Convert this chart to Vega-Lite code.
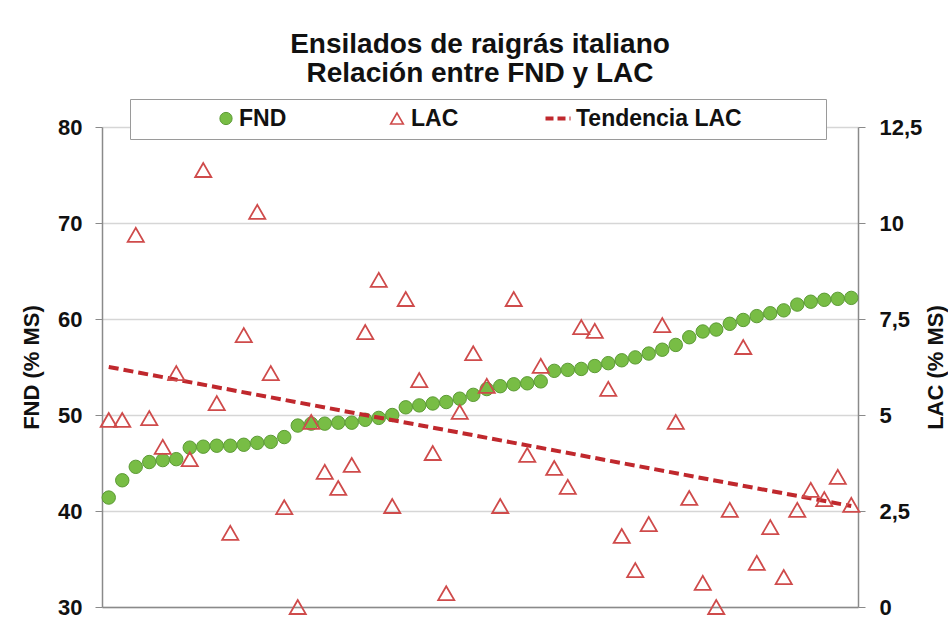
{
  "$schema": "https://vega.github.io/schema/vega-lite/v6.json",
  "width": 756,
  "height": 480,
  "autosize": {"type": "none"},
  "padding": {"left": 102, "top": 127, "right": 90, "bottom": 26},
  "background": "white",
  "config": {
    "view": {"stroke": null},
    "font": "Liberation Sans",
    "axis": {"labelFont": "Liberation Sans", "titleFont": "Liberation Sans"},
    "legend": {
      "orient": "none", "legendY": -28, "direction": "horizontal", "padding": 8,
      "labelFont": "Liberation Sans", "labelFontSize": 23, "labelFontWeight": "bold", "labelColor": "#111111", "labelLimit": 400,
      "symbolOpacity": 1
    }
  },
  "title": {
    "text": ["Ensilados de raigrás italiano", "Relación entre FND y LAC"],
    "font": "Liberation Sans",
    "fontSize": 28,
    "fontWeight": "bold",
    "color": "#111111",
    "lineHeight": 29,
    "anchor": "middle",
    "offset": 8
  },
  "datasets": {
    "points": [
      {"i": 1, "FND": 41.4, "LAC": 4.87},
      {"i": 2, "FND": 43.2, "LAC": 4.87},
      {"i": 3, "FND": 44.6, "LAC": 9.69},
      {"i": 4, "FND": 45.1, "LAC": 4.92},
      {"i": 5, "FND": 45.3, "LAC": 4.17},
      {"i": 6, "FND": 45.4, "LAC": 6.09},
      {"i": 7, "FND": 46.6, "LAC": 3.85},
      {"i": 8, "FND": 46.7, "LAC": 11.38},
      {"i": 9, "FND": 46.8, "LAC": 5.31},
      {"i": 10, "FND": 46.8, "LAC": 1.93},
      {"i": 11, "FND": 46.9, "LAC": 7.08},
      {"i": 12, "FND": 47.1, "LAC": 10.29},
      {"i": 13, "FND": 47.2, "LAC": 6.09},
      {"i": 14, "FND": 47.7, "LAC": 2.6},
      {"i": 15, "FND": 48.9, "LAC": 0.0},
      {"i": 16, "FND": 49.1, "LAC": 4.82},
      {"i": 17, "FND": 49.1, "LAC": 3.52},
      {"i": 18, "FND": 49.2, "LAC": 3.1},
      {"i": 19, "FND": 49.2, "LAC": 3.7},
      {"i": 20, "FND": 49.5, "LAC": 7.16},
      {"i": 21, "FND": 49.7, "LAC": 8.52},
      {"i": 22, "FND": 50.0, "LAC": 2.63},
      {"i": 23, "FND": 50.8, "LAC": 8.02},
      {"i": 24, "FND": 51.0, "LAC": 5.91},
      {"i": 25, "FND": 51.2, "LAC": 4.01},
      {"i": 26, "FND": 51.35, "LAC": 0.36},
      {"i": 27, "FND": 51.7, "LAC": 5.08},
      {"i": 28, "FND": 52.1, "LAC": 6.61},
      {"i": 29, "FND": 52.7, "LAC": 5.76},
      {"i": 30, "FND": 53.0, "LAC": 2.63},
      {"i": 31, "FND": 53.2, "LAC": 8.02},
      {"i": 32, "FND": 53.3, "LAC": 3.96},
      {"i": 33, "FND": 53.5, "LAC": 6.28},
      {"i": 34, "FND": 54.6, "LAC": 3.62},
      {"i": 35, "FND": 54.7, "LAC": 3.13},
      {"i": 36, "FND": 54.8, "LAC": 7.29},
      {"i": 37, "FND": 55.1, "LAC": 7.19},
      {"i": 38, "FND": 55.4, "LAC": 5.68},
      {"i": 39, "FND": 55.7, "LAC": 1.85},
      {"i": 40, "FND": 56.0, "LAC": 0.96},
      {"i": 41, "FND": 56.4, "LAC": 2.16},
      {"i": 42, "FND": 56.8, "LAC": 7.34},
      {"i": 43, "FND": 57.3, "LAC": 4.82},
      {"i": 44, "FND": 58.1, "LAC": 2.84},
      {"i": 45, "FND": 58.7, "LAC": 0.63},
      {"i": 46, "FND": 58.9, "LAC": 0.0},
      {"i": 47, "FND": 59.5, "LAC": 2.53},
      {"i": 48, "FND": 59.9, "LAC": 6.77},
      {"i": 49, "FND": 60.3, "LAC": 1.15},
      {"i": 50, "FND": 60.6, "LAC": 2.08},
      {"i": 51, "FND": 60.9, "LAC": 0.78},
      {"i": 52, "FND": 61.5, "LAC": 2.53},
      {"i": 53, "FND": 61.8, "LAC": 3.05},
      {"i": 54, "FND": 62.0, "LAC": 2.81},
      {"i": 55, "FND": 62.1, "LAC": 3.39},
      {"i": 56, "FND": 62.2, "LAC": 2.66}
    ],
    "trend": [
      {"i": 1, "trend": 6.25},
      {"i": 56, "trend": 2.63}
    ]
  },
  "layer": [
    {
      "data": {"name": "points"},
      "mark": {"type": "circle", "size": 180, "opacity": 1, "stroke": "#5b9a34", "strokeWidth": 1},
      "encoding": {
        "x": {"field": "i", "type": "quantitative", "scale": {"domain": [0.5, 56.5], "nice": false, "zero": false},
          "axis": {"labels": false, "ticks": false, "grid": false, "title": null, "domainColor": "#8a8a8a", "domainWidth": 1.5}},
        "y": {"field": "FND", "type": "quantitative", "scale": {"domain": [30, 80], "nice": false, "zero": false},
          "axis": {"orient": "left", "values": [30, 40, 50, 60, 70, 80], "title": "FND (% MS)", "titleFontSize": 22, "titleFontWeight": "bold", "titleColor": "#111111", "titlePadding": 14,
            "labelFontSize": 22, "labelFontWeight": "bold", "labelColor": "#111111", "labelPadding": 13, "tickSize": 7, "tickColor": "#8a8a8a", "domainColor": "#8a8a8a", "domainWidth": 1.5,
            "grid": true, "gridColor": "#d6d6d6", "gridWidth": 1.5}},
        "color": {"datum": "FND", "type": "nominal",
          "scale": {"domain": ["FND"], "range": ["#78bd45"]},
          "legend": {
            "legendX": 28, "title": " ", "titleOrient": "right", "titlePadding": 532, "titleFontSize": 10,
            "fillColor": "white", "strokeColor": "#9a9a9a",
            "symbolSize": 150, "symbolOffset": 76.5, "labelOffset": 1.5, "symbolStrokeColor": "#5b9a34", "symbolStrokeWidth": 1
          }}
      }
    },
    {
      "layer": [
        {
          "data": {"name": "trend"},
          "mark": {"type": "line", "strokeWidth": 4, "strokeDash": [10, 5]},
          "encoding": {
            "x": {"field": "i", "type": "quantitative"},
            "y": {"field": "trend", "type": "quantitative", "scale": {"domain": [0, 12.5], "nice": false, "zero": false},
              "axis": {"orient": "right", "values": [0, 2.5, 5, 7.5, 10, 12.5], "labelExpr": "replace(toString(datum.value), '.', ',')",
                "title": "LAC (% MS)", "titleAngle": 270, "titleFontSize": 22, "titleFontWeight": "bold", "titleColor": "#111111", "titlePadding": 26,
                "labelFontSize": 22, "labelFontWeight": "bold", "labelColor": "#111111", "labelPadding": 14, "tickSize": 7, "tickColor": "#8a8a8a", "domainColor": "#8a8a8a", "domainWidth": 1.5, "grid": false}},
            "color": {"datum": "Tendencia LAC", "type": "nominal",
              "scale": {"domain": ["Tendencia LAC"], "range": ["#c0282d"]},
              "legend": {
                "legendX": 433.5, "legendY": -31, "title": null, "symbolType": "stroke", "symbolSize": 625, "symbolStrokeWidth": 4, "symbolDash": [8, 4],
                "symbolOffset": 0, "labelOffset": 3.5
              }}
          }
        },
        {
          "data": {"name": "points"},
          "mark": {"type": "point", "shape": "triangle-up", "filled": false, "size": 260, "strokeWidth": 1.8, "opacity": 1},
          "encoding": {
            "x": {"field": "i", "type": "quantitative"},
            "y": {"field": "LAC", "type": "quantitative"},
            "color": {"datum": "LAC", "type": "nominal",
              "scale": {"domain": ["LAC"], "range": ["#cf4b4b"]},
              "legend": {
                "legendX": 275.5, "title": null, "symbolType": "triangle-up", "symbolSize": 160, "symbolStrokeWidth": 1.6,
                "symbolOffset": 0, "labelOffset": 2.5
              }}
          }
        }
      ],
      "resolve": {"scale": {"color": "independent"}, "legend": {"color": "independent"}}
    }
  ],
  "resolve": {"scale": {"y": "independent", "color": "independent"}, "legend": {"color": "independent"}}
}
